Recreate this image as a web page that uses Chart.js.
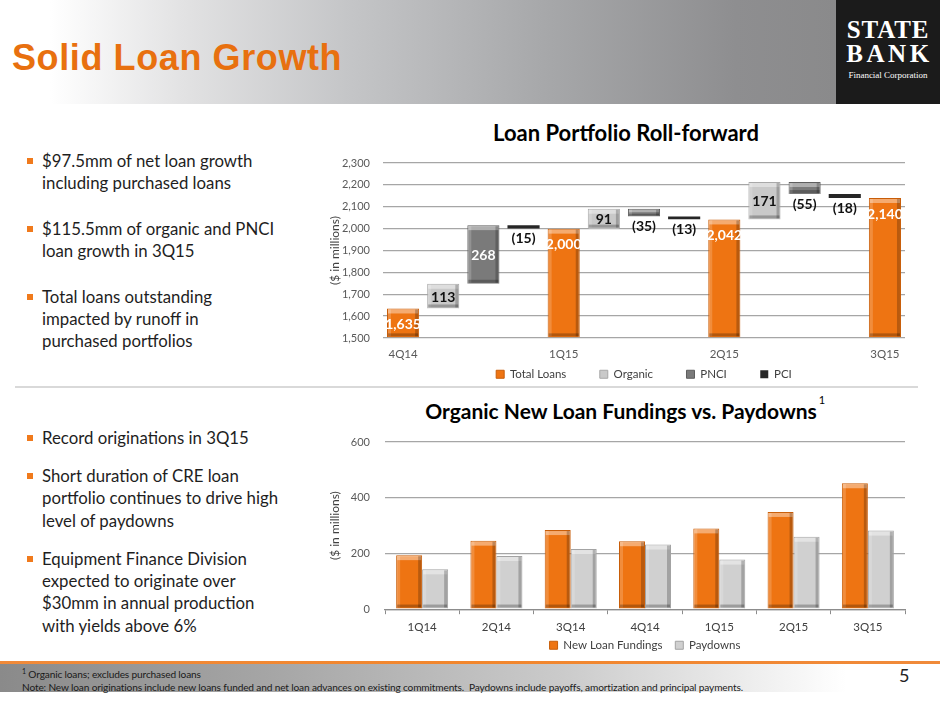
<!DOCTYPE html>
<html>
<head>
<meta charset="utf-8">
<script src="https://cdn.jsdelivr.net/npm/chart.js@4.4.1/dist/chart.umd.min.js"></script>
<style>
  html, body { margin:0; padding:0; }
  body { width:940px; height:705px; position:relative; overflow:hidden; background:#fff; font-family:Lato, "Open Sans", sans-serif; color:#1e1e1e; }
  .abs { position:absolute; }
  #header { left:0; top:0; width:836px; height:104px; background:linear-gradient(to right, #ffffff 0%, #ffffff 6%, #e2e2e3 22%, #c4c5c7 42%, #a7a8aa 65%, #8e8e90 88%, #8a8a8b 100%); }
  #logo { left:836px; top:0; width:104px; height:104px; background:#1b1b1b; color:#fff; text-align:center; }
  #logo .big { font-family:"Liberation Serif",serif; font-weight:bold; font-size:25px; line-height:24px; white-space:nowrap; }
  #logo .small { font-family:"Liberation Serif",serif; font-size:9px; margin-top:4px; white-space:nowrap; }
  #title { left:12px; top:37px; font-family:"Liberation Sans", Arial, sans-serif; font-weight:bold; font-size:36px; color:#E8700F; letter-spacing:0.6px; white-space:nowrap; }
  .bullets { left:27px; font-size:16.8px; line-height:22.4px; color:#1e1e1e; }
  .bullets .b { position:relative; padding-left:15px; white-space:nowrap; }
  .bullets .b::before { content:""; position:absolute; left:0; top:8px; width:6px; height:6px; background:#F07A1C; }
  #sep { left:15px; top:386px; width:903px; height:2px; background:#d9d9d9; }
  .ctitle { font-weight:bold; color:#000; text-align:center; white-space:nowrap; }
  #footline { left:0; top:661px; width:940px; height:3px; background:linear-gradient(to right,#f08a3a,#f2862c 50%,#f08a3a); }
  #footband { left:0; top:664px; width:940px; height:28px; background:linear-gradient(to right, #8a8a8a 0%, #a7a7a7 30%, #cbcbcb 60%, #f1f1f1 82%, #ffffff 90%); }
  #foot { left:22px; top:665px; font-size:10.15px; line-height:12.5px; color:#1a1a1a; letter-spacing:-0.15px; white-space:nowrap; }
  #page { left:899px; top:664px; font-size:18px; color:#222; }
</style>
</head>
<body>
<div id="header" class="abs"></div>
<div id="logo" class="abs">
  <div style="height:18px"></div>
  <div class="big" style="letter-spacing:0.8px;">STATE</div>
  <div class="big" style="letter-spacing:3.6px; margin-left:3px;">BANK</div>
  <div class="small">Financial Corporation</div>
</div>
<div id="title" class="abs">Solid Loan Growth</div>

<div class="abs bullets" style="top:150px;">
  <div class="b">$97.5mm of net loan growth<br>including purchased loans</div>
  <div style="height:23px"></div>
  <div class="b">$115.5mm of organic and PNCI<br>loan growth in 3Q15</div>
  <div style="height:23px"></div>
  <div class="b">Total loans outstanding<br>impacted by runoff in<br>purchased portfolios</div>
</div>
<div id="sep" class="abs"></div>
<div class="abs bullets" style="top:427px;">
  <div class="b">Record originations in 3Q15</div>
  <div style="height:15.5px"></div>
  <div class="b">Short duration of CRE loan<br>portfolio continues to drive high<br>level of paydowns</div>
  <div style="height:15.5px"></div>
  <div class="b">Equipment Finance Division<br>expected to originate over<br>$30mm in annual production<br>with yields above 6%</div>
</div>

<div class="abs ctitle" style="left:376px; width:500px; top:119px; font-size:22px;">Loan Portfolio Roll-forward</div>
<div class="abs ctitle" style="left:371px; width:500px; top:398px; font-size:21px;">Organic New Loan Fundings vs. Paydowns<sup style="font-weight:normal;font-size:11px;position:absolute;top:-5px;margin-left:2px;">1</sup></div>

<div class="abs" style="left:320px; top:150px; width:610px; height:240px;"><canvas id="c1"></canvas></div>
<div class="abs" style="left:320px; top:430px; width:610px; height:231px;"><canvas id="c2"></canvas></div>

<div id="footline" class="abs"></div>
<div id="footband" class="abs"></div>
<div id="foot" class="abs"><sup style="font-size:7px;">1</sup> Organic loans; excludes purchased loans<br>Note: New loan originations include new loans funded and net loan advances on existing commitments.&nbsp; Paydowns include payoffs, amortization and principal payments.</div>
<div id="page" class="abs">5</div>

<script>
// ---------- Data ----------
const quarterLabels = ['4Q14', '1Q15', '2Q15', '3Q15'];
const totalLoans = [1635, 2000, 2042, 2140];
const organicGrowth = [113, 91, 171];
const pnciGrowth = [268, -35, -55];
const pciGrowth = [-15, -13, -18];
const rollTicks = [1500, 1600, 1700, 1800, 1900, 2000, 2100, 2200, 2300];

const periods = ['1Q14', '2Q14', '3Q14', '4Q14', '1Q15', '2Q15', '3Q15'];
const newLoanFundings = [194, 246, 284, 244, 290, 349, 452];
const paydowns = [143, 191, 216, 232, 178, 260, 282];
const fundTicks = [0, 200, 400, 600];

// ---------- Helpers ----------
const ORANGE = '#EE7412', ORANGE_B = '#C85D08';
const LGRAY = '#C9C9C9', LGRAY_B = '#A8A8A8';
const DGRAY = '#7A7A7A', DGRAY_B = '#5E5E5E';
const BLACK = '#262626';
const fmtNum = v => v < 0 ? '(' + Math.abs(v) + ')' : v.toLocaleString('en-US');

Chart.defaults.font.family = 'Lato, "Open Sans", sans-serif';
Chart.defaults.color = '#595959';

const bevelPlugin = {
  id: 'bevel',
  afterDatasetsDraw(chart) {
    const ctx = chart.ctx;
    const area = chart.chartArea;
    chart.data.datasets.forEach((ds, di) => {
      const meta = chart.getDatasetMeta(di);
      if (meta.hidden) return;
      meta.data.forEach((el, i) => {
        if (ds.data[i] === null || ds.data[i] === undefined) return;
        const p = el.getProps(['x', 'y', 'base', 'width'], true);
        const l = p.x - p.width / 2, r = p.x + p.width / 2;
        const t = Math.max(area.top, Math.min(p.y, p.base));
        const b = Math.min(area.bottom, Math.max(p.y, p.base));
        const h = b - t;
        ctx.save();
        ctx.beginPath();
        ctx.rect(area.left, area.top, area.right - area.left, area.bottom - area.top);
        ctx.clip();
        if (h > 6) {
          const e = Math.min(4, h / 3);
          ctx.fillStyle = 'rgba(255,255,255,0.40)';
          ctx.fillRect(l + 1, t + 1, p.width - 2, e);
          ctx.fillStyle = 'rgba(255,255,255,0.18)';
          ctx.fillRect(l + 1, t + 1, 3, h - 2);
          ctx.fillStyle = 'rgba(0,0,0,0.22)';
          ctx.fillRect(r - 4, t + 1, 3, h - 2);
          ctx.fillStyle = 'rgba(0,0,0,0.25)';
          ctx.fillRect(l + 1, b - e, p.width - 2, e - 1);
        }
        ctx.restore();
        // value labels
        if (ds.valueLabels) {
          const v = ds.valueLabels[i];
          if (v === null || v === undefined) return;
          ctx.save();
          ctx.font = 'bold 14px Lato, sans-serif';
          ctx.textAlign = 'center';
          let color, y, base;
          if (ds.labelMode === 'insideEnd') { color = '#fff'; y = t + 16; base = 'middle'; }
          else if (v < 0) { color = '#111'; y = b + 3; base = 'top'; }
          else { color = ds.labelColor || '#111'; y = (t + b) / 2 + 1; base = 'middle'; }
          ctx.fillStyle = color;
          ctx.textBaseline = base;
          ctx.fillText(fmtNum(v), p.x, y);
          ctx.restore();
        }
      });
    });
  }
};

// ---------- Chart 1 : waterfall ----------
const slots = [];
quarterLabels.forEach((q, i) => { slots.push(q); if (i < quarterLabels.length - 1) slots.push('', '', ''); });
const n = slots.length;
const totData = Array(n).fill(null), totLbl = Array(n).fill(null);
const orgData = Array(n).fill(null), orgLbl = Array(n).fill(null);
const pnData = Array(n).fill(null), pnLbl = Array(n).fill(null);
const pcData = Array(n).fill(null), pcLbl = Array(n).fill(null);
totalLoans.forEach((v, q) => { totData[4 * q] = v; totLbl[4 * q] = v; });
organicGrowth.forEach((v, q) => {
  const s = totalLoans[q];
  const a = s + organicGrowth[q];
  const b = a + pnciGrowth[q];
  const c = b + pciGrowth[q];
  orgData[4 * q + 1] = [s, a]; orgLbl[4 * q + 1] = organicGrowth[q];
  pnData[4 * q + 2] = [a, b]; pnLbl[4 * q + 2] = pnciGrowth[q];
  pcData[4 * q + 3] = [b, c]; pcLbl[4 * q + 3] = pciGrowth[q];
});

function spacedLabels(extraSpaces) {
  return chart => {
    const items = Chart.defaults.plugins.legend.labels.generateLabels(chart);
    items.forEach((it, i) => { if (i < items.length - 1) it.text = it.text + ' '.repeat(extraSpaces); });
    return items;
  };
}
const yFit = w => s => { s.width = w; s.paddingTop = 0; s.paddingBottom = 0; };

new Chart(document.getElementById('c1'), {
  type: 'bar',
  data: {
    labels: slots,
    datasets: [
      { label: 'Total Loans', data: totData, valueLabels: totLbl, labelMode: 'insideEnd', base: rollTicks[0], backgroundColor: ORANGE, borderColor: ORANGE_B, borderWidth: 1, grouped: false },
      { label: 'Organic', data: orgData, valueLabels: orgLbl, labelColor: '#111', backgroundColor: LGRAY, borderColor: LGRAY_B, borderWidth: 1, grouped: false },
      { label: 'PNCI', data: pnData, valueLabels: pnLbl, labelColor: '#fff', backgroundColor: DGRAY, borderColor: DGRAY_B, borderWidth: 1, grouped: false },
      { label: 'PCI', data: pcData, valueLabels: pcLbl, backgroundColor: BLACK, borderColor: BLACK, borderWidth: 0, grouped: false }
    ]
  },
  options: {
    responsive: true, maintainAspectRatio: false, animation: false,
    layout: { padding: { left: 0, right: 25, top: 13, bottom: 0 } },
    datasets: { bar: { categoryPercentage: 0.8, barPercentage: 1.0 } },
    plugins: {
      legend: { position: 'bottom', fullSize: false, labels: { boxWidth: 8, boxHeight: 8, padding: 4, color: '#404040', font: { size: 11.5 }, generateLabels: spacedLabels(10) } },
      tooltip: { enabled: false }
    },
    scales: {
      x: {
        grid: { display: false, drawTicks: false }, border: { display: false },
        afterFit: s => { s.height = 26.5; },
        ticks: { autoSkip: false, maxRotation: 0, color: '#595959', font: { size: 11.5 }, padding: 9 }
      },
      y: {
        min: rollTicks[0], max: rollTicks[rollTicks.length - 1],
        afterBuildTicks: s => { s.ticks = rollTicks.map(v => ({ value: v })); },
        afterFit: yFit(63),
        grid: { color: '#A6A6A6', lineWidth: 1.3, drawTicks: false },
        border: { display: false },
        ticks: { color: '#595959', font: { size: 11 }, padding: 13, callback: v => v.toLocaleString('en-US') },
        title: { display: true, text: '($ in millions)', color: '#404040', font: { size: 12 }, padding: { top: 8, bottom: 0 } }
      }
    }
  },
  plugins: [bevelPlugin]
});

// ---------- Chart 2 : grouped bars ----------
new Chart(document.getElementById('c2'), {
  type: 'bar',
  data: {
    labels: periods,
    datasets: [
      { label: 'New Loan Fundings', data: newLoanFundings, backgroundColor: ORANGE, borderColor: ORANGE_B, borderWidth: 1 },
      { label: 'Paydowns', data: paydowns, backgroundColor: '#D0D0D0', borderColor: '#A3A3A3', borderWidth: 1 }
    ]
  },
  options: {
    responsive: true, maintainAspectRatio: false, animation: false,
    layout: { padding: { left: 0, right: 25, top: 12, bottom: 0 } },
    datasets: { bar: { categoryPercentage: 0.7, barPercentage: 1.0 } },
    plugins: {
      legend: { position: 'bottom', fullSize: false, labels: { boxWidth: 8, boxHeight: 8, padding: 4, color: '#404040', font: { size: 11.5 }, generateLabels: spacedLabels(3) } },
      tooltip: { enabled: false }
    },
    scales: {
      x: {
        grid: { display: true, drawOnChartArea: false, drawTicks: true, tickLength: 5, color: '#8C8C8C', offset: true },
        border: { display: true, color: '#8C8C8C', width: 1.3 },
        afterFit: s => { s.height = 26.3; },
        ticks: { color: '#404040', font: { size: 11.5 }, padding: 6 }
      },
      y: {
        min: fundTicks[0], max: fundTicks[fundTicks.length - 1],
        afterBuildTicks: s => { s.ticks = fundTicks.map(v => ({ value: v })); },
        afterFit: yFit(65),
        grid: { color: '#A6A6A6', lineWidth: 1.3, drawTicks: false },
        border: { display: false },
        ticks: { color: '#595959', font: { size: 11 }, padding: 15 },
        title: { display: true, text: '($ in millions)', color: '#404040', font: { size: 12 }, padding: { top: 8, bottom: 0 } }
      }
    }
  },
  plugins: [bevelPlugin]
});
</script>
</body>
</html>
